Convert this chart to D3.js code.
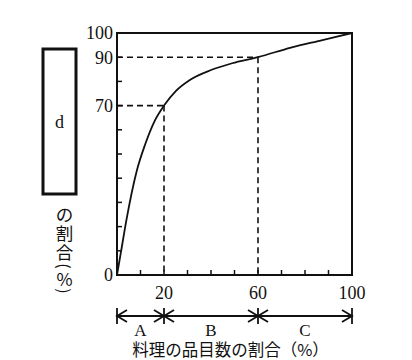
<!DOCTYPE html>
<html><head><meta charset="utf-8">
<script src="https://cdn.jsdelivr.net/npm/d3@7"></script>
<style>
body{margin:0;background:#fff;}
svg{display:block;}
.num{font-family:"Liberation Serif","DejaVu Serif",serif;font-size:18px;fill:#111;}
.jp{font-family:"Noto Sans CJK JP",sans-serif;font-size:16.5px;fill:#111;}
</style></head>
<body>
<svg id="c" width="412" height="360"></svg>
<script>
// ---- data ----
const itemShare = [0, 1.6, 4, 8.4, 12, 16.2, 20, 25, 31, 40, 49, 60, 74, 87, 100];
const dShare    = [0, 9, 22.7, 43, 54, 64, 70, 76, 80.6, 84.7, 87.5, 90, 94, 97, 100];
const xTickLabels = [20, 60, 100];
const yTickLabels = [0, 70, 90, 100];
const minorTicks = [10, 20, 30, 40, 50, 60, 70, 80, 90];
const groups = ["A", "B", "C"];
const groupBounds = [0, 20, 60, 100];
const markers = [[20, 70], [60, 90]];
const xTitle = "料理の品目数の割合（%）";
const yBoxLabel = "d";
const yTitle = "の割合(%)";

const svg = d3.select("#c");
const L = 117, R = 352, T = 33, B = 275;
const x = d3.scaleLinear().domain([0, 100]).range([L, R]);
const y = d3.scaleLinear().domain([0, 100]).range([B, T]);

// dashed guide lines
markers.forEach(([mx, my]) => {
  svg.append("line").attr("x1", x(0)).attr("x2", x(mx)).attr("y1", y(my)).attr("y2", y(my))
    .attr("stroke", "#111").attr("stroke-width", 1.6).attr("stroke-dasharray", "6,4");
  svg.append("line").attr("x1", x(mx)).attr("x2", x(mx)).attr("y1", y(my)).attr("y2", y(0))
    .attr("stroke", "#111").attr("stroke-width", 1.6).attr("stroke-dasharray", "6,4");
});

// frame
svg.append("rect").attr("x", L).attr("y", T).attr("width", R - L).attr("height", B - T)
  .attr("fill", "none").attr("stroke", "#111").attr("stroke-width", 2);

// inner ticks
svg.selectAll(".yt").data(minorTicks).enter().append("line")
  .attr("x1", x(0)).attr("x2", x(0) + 5).attr("y1", d => y(d)).attr("y2", d => y(d))
  .attr("stroke", "#111").attr("stroke-width", 1.5);
svg.selectAll(".xt").data(minorTicks).enter().append("line")
  .attr("y1", y(0)).attr("y2", y(0) - 5).attr("x1", d => x(d)).attr("x2", d => x(d))
  .attr("stroke", "#111").attr("stroke-width", 1.5);

// tick labels
svg.selectAll(".yl").data(yTickLabels).enter().append("text").attr("class", "num")
  .attr("x", x(0) - 4).attr("y", d => y(d)).attr("dy", "0.35em").attr("text-anchor", "end")
  .text(d => d);
svg.selectAll(".xl").data(xTickLabels).enter().append("text").attr("class", "num")
  .attr("x", d => x(d)).attr("y", y(0) + 24).attr("text-anchor", "middle")
  .text(d => d);

// curve
const pts = itemShare.map((v, i) => [v, dShare[i]]);
svg.append("path").datum(pts)
  .attr("d", d3.line().x(d => x(d[0])).y(d => y(d[1])).curve(d3.curveMonotoneX))
  .attr("fill", "none").attr("stroke", "#111").attr("stroke-width", 1.8);

// range brackets
const by = 316;
svg.append("line").attr("x1", x(0)).attr("x2", x(100)).attr("y1", by).attr("y2", by)
  .attr("stroke", "#111").attr("stroke-width", 1.8);
groupBounds.forEach((g, i) => {
  svg.append("line").attr("x1", x(g)).attr("x2", x(g)).attr("y1", by - 8).attr("y2", by + 8)
    .attr("stroke", "#111").attr("stroke-width", 1.8);
  const dirs = [];
  if (i > 0) dirs.push(-1);
  if (i < groupBounds.length - 1) dirs.push(1);
  dirs.forEach(s => {
    svg.append("path")
      .attr("d", `M${x(g) + s * 10},${by - 6} L${x(g)},${by} L${x(g) + s * 10},${by + 6}`)
      .attr("fill", "none").attr("stroke", "#111").attr("stroke-width", 1.8);
  });
});
svg.selectAll(".gl").data(groups).enter().append("text").attr("class", "num")
  .attr("x", (d, i) => x((groupBounds[i] + groupBounds[i + 1]) / 2))
  .attr("y", 336).attr("text-anchor", "middle").style("font-size", "17px")
  .text(d => d);

// x title
svg.append("text").attr("class", "jp").attr("x", (L + R) / 2 - 4).attr("y", 356)
  .attr("text-anchor", "middle").text(xTitle);

// y label box
svg.append("rect").attr("x", 43).attr("y", 49).attr("width", 33).attr("height", 145)
  .attr("fill", "#fff").attr("stroke", "#111").attr("stroke-width", 3);
svg.append("text").attr("class", "num").attr("x", 59.5).attr("y", 122).attr("dy", "0.35em")
  .attr("text-anchor", "middle").style("font-size", "18px").text(yBoxLabel);

// vertical y title, one glyph per step (parentheses turned sideways)
const isParen = c => c === "(" || c === ")";
const advance = c => isParen(c) ? 10 : (c === "%" ? 15 : 19);
let cy = 204;
Array.from(yTitle).forEach(c => {
  const a = advance(c);
  svg.append("text").attr("class", "jp")
    .attr("text-anchor", "middle").attr("dominant-baseline", "central")
    .style("font-size", isParen(c) ? "16px" : "17.5px")
    .attr("transform", `translate(64.5,${cy + a / 2})` + (isParen(c) ? " rotate(90)" : ""))
    .text(c);
  cy += a;
});
</script>
</body></html>
